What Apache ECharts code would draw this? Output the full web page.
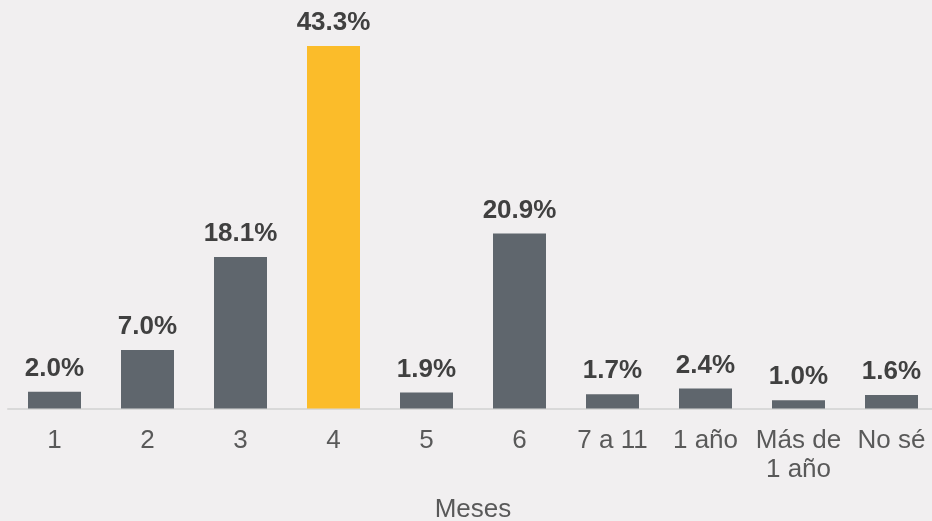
<!DOCTYPE html>
<html>
<head>
<meta charset="utf-8">
<script src="https://cdn.jsdelivr.net/npm/echarts@6/dist/echarts.min.js"></script>
<style>
html,body{margin:0;padding:0;background:#f1eff0;}
#c{width:932px;height:521px;}
</style>
</head>
<body>
<div id="c"></div>
<script>
var categories = ['1','2','3','4','5','6','7 a 11','1 año','Más de\n1 año','No sé'];
var values = [2.0, 7.0, 18.1, 43.3, 1.9, 20.9, 1.7, 2.4, 1.0, 1.6];
var highlightIndex = 3;
var axisName = 'Meses';

var chart = echarts.init(document.getElementById('c'));
var font = '"Liberation Sans", Arial, sans-serif';
chart.setOption({
  backgroundColor: '#f1eff0',
  animation: false,
  grid: {left: 8, top: 31.8, width: 930, bottom: 112.5, containLabel: false, outerBoundsMode: 'none'},
  xAxis: {
    type: 'category',
    data: categories,
    axisLine: {lineStyle: {color: '#d9d9d9', width: 2}},
    axisTick: {show: false},
    axisLabel: {color: '#595959', fontSize: 26, fontFamily: font, margin: 18, lineHeight: 29, interval: 0},
    name: axisName,
    nameLocation: 'middle',
    nameGap: 88,
    nameTextStyle: {color: '#595959', fontSize: 26, fontFamily: font}
  },
  yAxis: {
    type: 'value', min: 0, max: 45, show: false
  },
  series: [{
    type: 'bar',
    barWidth: 53,
    data: values.map(function(v, i){
      return {value: v, itemStyle: {color: i === highlightIndex ? '#fbbc2a' : '#5f666d'}};
    }),
    label: {
      show: true, position: 'top', distance: 10,
      color: '#404040', fontSize: 26, fontWeight: 'bold', fontFamily: font,
      formatter: function(p){ return p.value.toFixed(1) + '%'; }
    }
  }]
});
</script>
</body>
</html>
